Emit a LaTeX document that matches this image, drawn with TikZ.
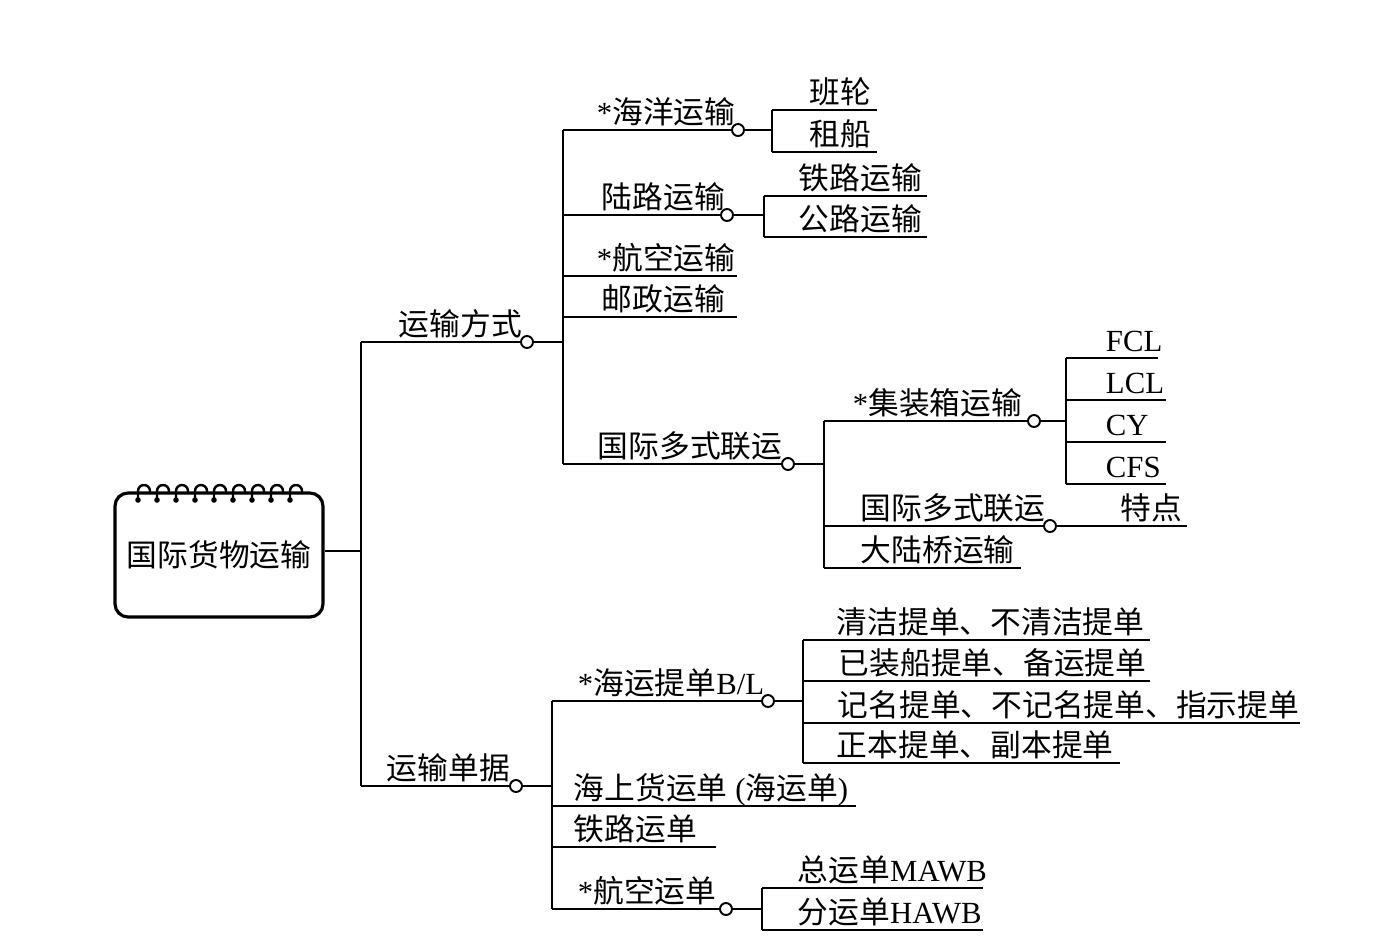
\documentclass[tikz,border=0pt]{standalone}
\usepackage{fontspec}
\setmainfont{Liberation Serif}
\newfontfamily\cjk{Noto Sans CJK SC}
\newcommand\zh[1]{{\cjk #1}}
\begin{document}
\begin{tikzpicture}[x=0.02cm,y=-0.02cm,
  line width=1.1pt,
  lab/.style={anchor=base west, inner sep=0pt, yshift=3.9pt, font=\fontsize{17.5}{20}\selectfont},
  dot/.style={circle, draw, fill=white, inner sep=0pt, minimum size=0.24cm, line width=1.1pt},
  rootbox/.style={draw, rounded corners=0.26cm, line width=1.8pt, minimum width=4.16cm, minimum height=2.48cm, inner sep=0pt, font=\fontsize{17.5}{20}\selectfont}]
\useasboundingbox (0,0) rectangle (1390,951);

% root
\node[rootbox] (root) at (219,555) {\zh{国际货物运输}};
\foreach \i in {0,...,8} {
  \fill (138+19*\i,500) circle (2.8);
  \draw[line width=1.4pt] (138+19*\i,500) -- (138+19*\i,491) arc (180:360:6) -- (150+19*\i,494);
}
\coordinate (r0) at (361,551);
\draw (root.east |- r0) -- (r0);
\draw (361,342) -- (361,786);

% level 1
\node[lab] (fs) at (398,342) {\zh{运输方式}};
\node[dot] (cfs) at (527,342) {};
\draw (361,342) -- (cfs) -- (563,342);
\draw (563,130) -- (563,464);

\node[lab] (dj) at (386,786) {\zh{运输单据}};
\node[dot] (cdj) at (516,786) {};
\draw (361,786) -- (cdj) -- (552,786);
\draw (552,701) -- (552,909);

% 运输方式 children
\node[lab] (hy) at (596,130) {*\zh{海洋运输}};
\node[dot] (chy) at (738,130) {};
\draw (563,130) -- (chy) -- (772,130);
\draw (772,110) -- (772,152);
\node[lab] (bl) at (809,110) {\zh{班轮}};
\draw (772,110) -- (877,110);
\node[lab] (zc) at (809,152) {\zh{租船}};
\draw (772,152) -- (877,152);

\node[lab] (ll) at (601,215) {\zh{陆路运输}};
\node[dot] (cll) at (727,215) {};
\draw (563,215) -- (cll) -- (764,215);
\draw (764,196) -- (764,237);
\node[lab] (tl) at (798,196) {\zh{铁路运输}};
\draw (764,196) -- (927,196);
\node[lab] (gl) at (798,237) {\zh{公路运输}};
\draw (764,237) -- (927,237);

\node[lab] (hk) at (596,276) {*\zh{航空运输}};
\draw (563,276) -- (737,276);
\node[lab] (yz) at (601,317) {\zh{邮政运输}};
\draw (563,317) -- (737,317);

\node[lab] (dsly) at (597,464) {\zh{国际多式联运}};
\node[dot] (cdsly) at (788,464) {};
\draw (563,464) -- (cdsly) -- (824,464);
\draw (824,421) -- (824,568);

\node[lab] (jzx) at (852,421) {*\zh{集装箱运输}};
\node[dot] (cjzx) at (1034,421) {};
\draw (824,421) -- (cjzx) -- (1066,421);
\draw (1066,358) -- (1066,484);
\node[lab] (fcl) at (1105,358) {FCL};
\draw (1066,358) -- (1158,358);
\node[lab] (lcl) at (1105,400) {LCL};
\draw (1066,400) -- (1166,400);
\node[lab] (cy) at (1105,442) {CY};
\draw (1066,442) -- (1166,442);
\node[lab] (cfsn) at (1105,484) {CFS};
\draw (1066,484) -- (1166,484);

\node[lab] (dsly2) at (860,526) {\zh{国际多式联运}};
\node[dot] (cdsly2) at (1050,526) {};
\draw (824,526) -- (cdsly2) -- (1187,526);
\node[lab] (td) at (1120,526) {\zh{特点}};

\node[lab] (dlq) at (860,568) {\zh{大陆桥运输}};
\draw (824,568) -- (1021,568);

% 运输单据 children
\node[lab] (hytd) at (577,701) {*\zh{海运提单}B/L};
\node[dot] (chytd) at (768,701) {};
\draw (552,701) -- (chytd) -- (803,701);
\draw (803,640) -- (803,763);
\node[lab] (qj) at (836,640) {\zh{清洁提单、不清洁提单}};
\draw (803,640) -- (1150,640);
\node[lab] (yzc) at (838,681) {\zh{已装船提单、备运提单}};
\draw (803,681) -- (1150,681);
\node[lab] (jm) at (837,723) {\zh{记名提单、不记名提单、指示提单}};
\draw (803,723) -- (1300,723);
\node[lab] (zb) at (836,763) {\zh{正本提单、副本提单}};
\draw (803,763) -- (1120,763);

\node[lab] (hs) at (573,806) {\zh{海上货运单} (\zh{海运单})};
\draw (552,806) -- (856,806);
\node[lab] (tlyd) at (573,847) {\zh{铁路运单}};
\draw (552,847) -- (716,847);

\node[lab] (hkyd) at (577,909) {*\zh{航空运单}};
\node[dot] (chkyd) at (726,909) {};
\draw (552,909) -- (chkyd) -- (762,909);
\draw (762,888) -- (762,930);
\node[lab] (zyd) at (797,888) {\zh{总运单}MAWB};
\draw (762,888) -- (983,888);
\node[lab] (fyd) at (797,930) {\zh{分运单}HAWB};
\draw (762,930) -- (983,930);
\end{tikzpicture}
\end{document}
